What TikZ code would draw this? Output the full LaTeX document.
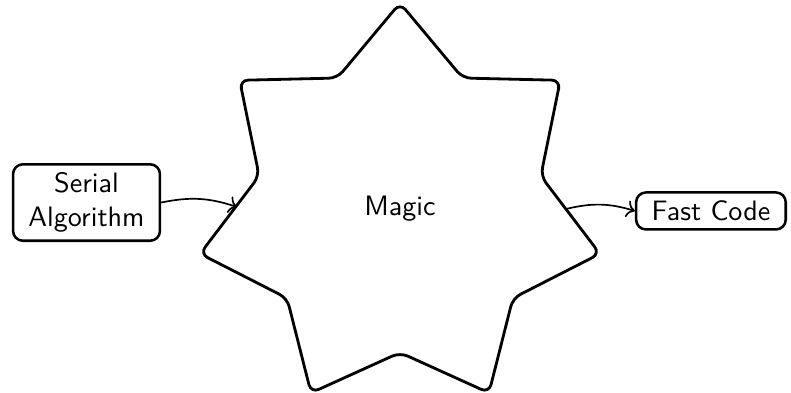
\documentclass[tikz,border=0pt]{standalone}
\usepackage{tikz}
\usetikzlibrary{arrows.meta, positioning, shapes.geometric}

\begin{document}
\begin{tikzpicture}[
    font=\sffamily,
    codebox/.style={
        rectangle,
        draw,
        line width=0.9pt,
        rounded corners=3.5pt,
        align=center,
        inner xsep=5.5pt,
        inner ysep=3pt
    },
    magicstar/.style={
        star,
        star points=7,
        star point ratio=1.42,
        draw,
        line width=1pt,
        rounded corners=3pt,
        minimum size=146pt
    },
    arrow/.style={->, line width=0.6pt}
]
\useasboundingbox (-142.4pt,-66.2pt) rectangle (139.2pt,73.5pt);

% Star in the middle
\node[magicstar] (magic) at (0,-0.6pt) {Magic};
\coordinate (magicin) at ([xshift=-58pt,yshift=0.4pt]magic.center);
\coordinate (magicout) at ([xshift=59.5pt,yshift=-0.2pt]magic.center);

% Input and output
\node[codebox] (serial) at (-111.6pt,1.4pt) {Serial\\Algorithm};
\node[codebox] (fast) at (110.7pt,-1.6pt) {Fast Code};

\draw[arrow] (serial.east) to[bend left=15] (magicin);
\draw[arrow] (magicout) to[bend left=15] (fast.west);

\end{tikzpicture}
\end{document}
